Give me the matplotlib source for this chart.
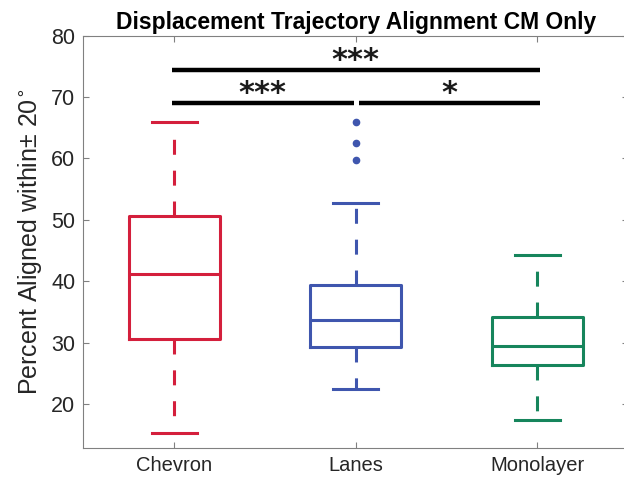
import numpy as np
import matplotlib
matplotlib.use("Agg")
import matplotlib.pyplot as plt

plt.rcParams['font.family'] = ['Liberation Sans', 'DejaVu Sans']

# box summary values
groups = ["Chevron", "Lanes", "Monolayer"]
whislo = [15.3, 22.5, 17.5]
q1 = [30.6, 29.3, 26.4]
med = [41.2, 33.8, 29.5]
q3 = [50.6, 39.4, 34.2]
whishi = [65.9, 52.7, 44.3]
fliers = [[], [66.0, 62.5, 59.7], []]
colors = ["#D41F3C", "#3F56AE", "#16855C"]

# significance bars
sig_x0 = [0.985, 0.985, 2.02]
sig_x1 = [3.015, 1.99, 3.015]
sig_y = [74.4, 69.0, 69.0]
sig_lab = ["***", "***", "*"]

FIG_SIZE = (6.24, 4.82)
fig = plt.figure(figsize=FIG_SIZE, dpi=100)
ax = fig.add_axes([0.1338, 0.0705, 0.8726, 0.8558])

stats = []
for i in range(len(groups)):
    stats.append(dict(med=med[i], q1=q1[i], q3=q3[i], whislo=whislo[i],
                      whishi=whishi[i], fliers=fliers[i], label=groups[i]))

bp = ax.bxp(stats, positions=[1, 2, 3], widths=0.5, capwidths=0.25,
            showfliers=True)

lw = 2.2
for i, c in enumerate(colors):
    bp['boxes'][i].set(color=c, linewidth=lw)
    bp['medians'][i].set(color=c, linewidth=lw)
    for j in (2 * i, 2 * i + 1):
        bp['whiskers'][j].set(color=c, linewidth=lw, linestyle=(0, (4.9, 5.2)))
        bp['caps'][j].set(color=c, linewidth=lw)
    bp['fliers'][i].set(marker='o', markersize=4.5, markerfacecolor=c,
                        markeredgecolor=c)

for x0, x1, y, lab in zip(sig_x0, sig_x1, sig_y, sig_lab):
    ax.plot([x0, x1], [y, y], color='black', linewidth=3.2,
            solid_capstyle='butt')
    ax.text((x0 + x1) / 2, y + 1.5, lab, ha='center', va='center',
            fontsize=22, fontweight='heavy', family='DejaVu Sans', color='#1a1a1a')

ax.set_xlim(0.5, 3.5)
ax.set_ylim(12.9, 80)
ax.set_yticks(np.arange(20, 81, 10))
ax.set_xticks([1, 2, 3])
ax.set_xticklabels(groups, fontsize=14.5)
ax.tick_params(axis='y', labelsize=15.5)
ax.tick_params(direction='in', top=True, right=True, length=4, width=0.8,
               colors='#808080', labelcolor='#262626', pad=6)
for s in ax.spines.values():
    s.set_color('#808080')
    s.set_linewidth(0.8)

ax.set_ylabel("Percent Aligned within\u00b1 20$^{\\circ}$", fontsize=18,
              color='#262626', labelpad=5)
ax.set_title("Displacement Trajectory Alignment CM Only", fontsize=16.5,
             fontweight='bold', pad=5)

fig.savefig("out.png", dpi=100)
